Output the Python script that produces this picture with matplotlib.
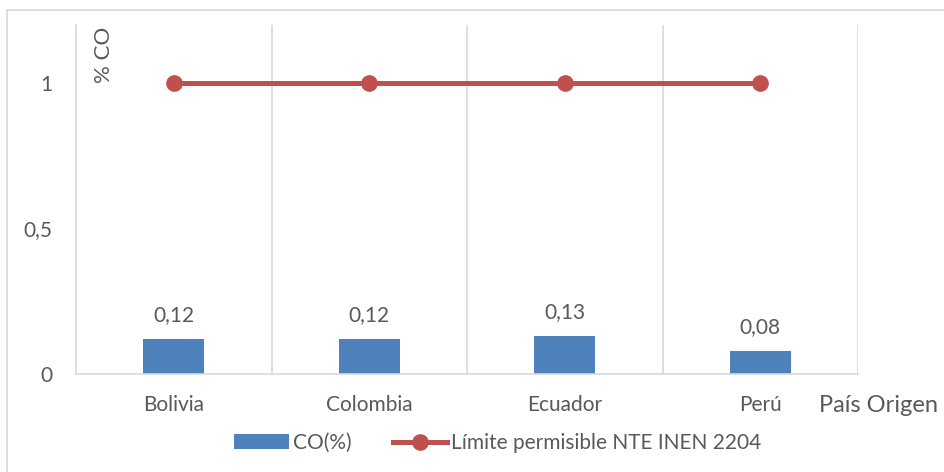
import matplotlib
matplotlib.use("Agg")
import matplotlib.pyplot as plt
from matplotlib.lines import Line2D

plt.rcParams['font.family'] = ['Lato', 'DejaVu Sans']

paises = ["Bolivia", "Colombia", "Ecuador", "Perú"]
co_pct = [0.12, 0.12, 0.13, 0.08]
limite = [1, 1, 1, 1]
yticks = [0, 0.5, 1]
ytick_labels = ["0", "0,5", "1"]

txt = "#595959"
grid_c = "#D9D9D9"

fig = plt.figure(figsize=(9.44, 4.72), dpi=100)
ax = fig.add_axes([76/944, 1 - 374/472, (858-76)/944, (374-25)/472])

x = list(range(len(paises)))
bars = ax.bar(x, co_pct, width=0.31, color="#4F81BD", label="CO(%)", zorder=2)
ln, = ax.plot(x, limite, color="#C0504D", lw=3.6, marker="o", markersize=11,
              label="Límite permisible NTE INEN 2204", zorder=3)

for xi, v in zip(x, co_pct):
    ax.annotate(f"{v:.2f}".replace(".", ","), (xi, v), xytext=(0, 10),
                textcoords="offset points", ha="center", va="bottom",
                fontsize=15, color=txt)

ax.set_xlim(-0.5, len(paises) - 0.5)
ax.set_ylim(0, 1.2)
ax.set_xticks(x)
ax.set_xticklabels(paises, fontsize=15, color=txt)
ax.set_yticks(yticks)
ax.set_yticklabels(ytick_labels, fontsize=15, color=txt)
ax.tick_params(axis="x", length=0, pad=15)
ax.tick_params(axis="y", length=0, pad=17)

for b in [0.5, 1.5, 2.5, 3.5]:
    ax.axvline(b, color=grid_c, lw=1.2, zorder=1)

for s in ["top", "right"]:
    ax.spines[s].set_visible(False)
ax.spines["left"].set_color(grid_c)
ax.spines["bottom"].set_color(grid_c)
ax.spines["left"].set_linewidth(1.2)
ax.spines["bottom"].set_linewidth(1.2)

fig.text(104/944, 1 - 27/472, "% CO", rotation=90, ha="center", va="top",
         fontsize=16, color=txt)
fig.text(819/944, 1 - 405/472, "País Origen", ha="left", va="center",
         fontsize=17, color=txt)

fig.legend([bars, ln], ["CO(%)", "Límite permisible NTE INEN 2204"],
           loc="center", bbox_to_anchor=(498/944, 1 - 443/472), ncol=2,
           frameon=False, fontsize=15, labelcolor=txt, handlelength=2.6,
           handleheight=0.7, columnspacing=2.0, handletextpad=0.2)

# outer chart border (left and top edges visible)
fig.add_artist(Line2D([7/944, 7/944], [0, 1 - 10/472], transform=fig.transFigure,
                      color=grid_c, lw=1.2))
fig.add_artist(Line2D([7/944, 1], [1 - 10/472, 1 - 10/472], transform=fig.transFigure,
                      color=grid_c, lw=1.2))

fig.savefig("out.png", dpi=100)
